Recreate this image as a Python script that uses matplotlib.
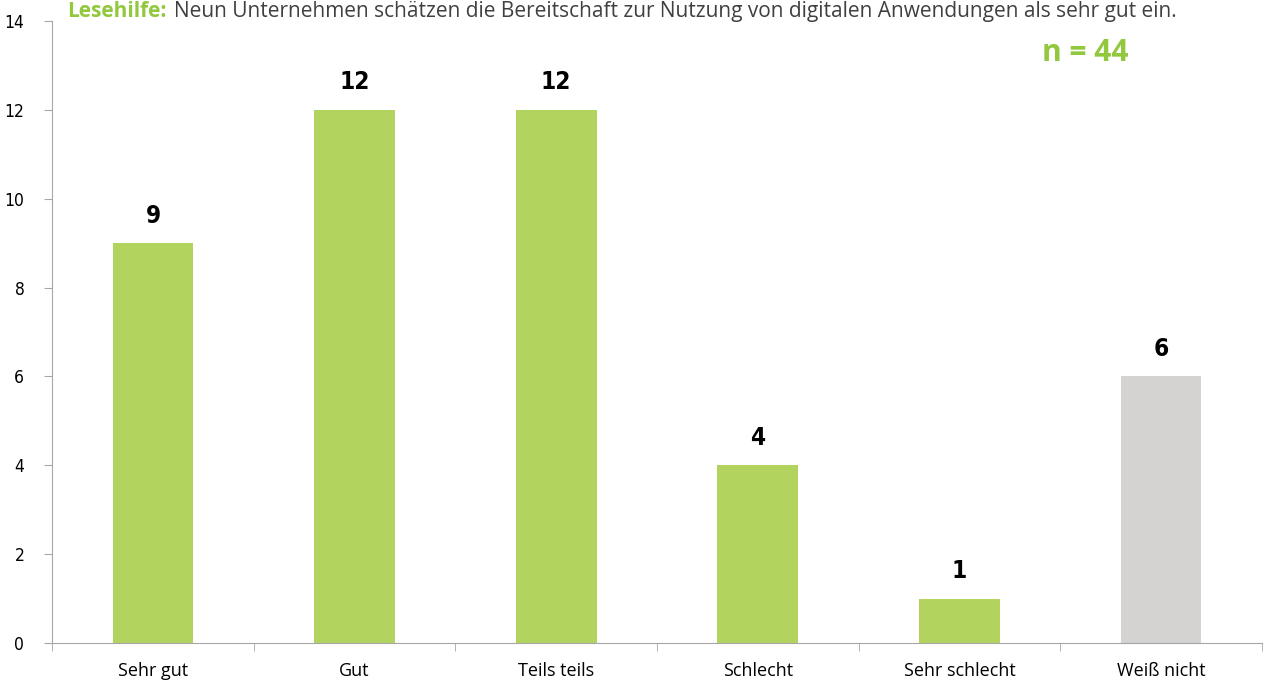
import matplotlib
matplotlib.use('Agg')
import matplotlib.pyplot as plt
import numpy as np

categories = ['Sehr gut', 'Gut', 'Teils teils', 'Schlecht', 'Sehr schlecht', 'Weiß nicht']
values = [9, 12, 12, 4, 1, 6]
colors = ['#B2D35E'] * 5 + ['#D4D3D2']
yticks = [0, 2, 4, 6, 8, 10, 12, 14]

plt.rcParams['font.family'] = ['Open Sans', 'DejaVu Sans']

fig = plt.figure(figsize=(12.72, 6.84), dpi=100)
ax = fig.add_axes([0.041, 0.060, 0.951, 0.909])

x = np.arange(len(categories))
ax.bar(x, values, width=0.40, color=colors, zorder=2)

# value labels above bars
for xi, v in zip(x, values):
    ax.text(xi, v + 0.35, str(v), ha='center', va='bottom', fontsize=17.5,
            fontweight='bold', family='DejaVu Sans', fontstretch='condensed')

ax.set_xlim(-0.5, len(categories) - 0.5)
ax.set_ylim(0, 14)
ax.set_yticks(yticks)
ax.set_yticklabels([str(t) for t in yticks], fontsize=12.5, family='DejaVu Sans',
                   fontstretch='condensed')
ax.set_xticks(x)
ax.set_xticklabels(categories, fontsize=13)
ax.set_xticks(np.arange(-0.5, len(categories)), minor=True)

for s in ['top', 'right']:
    ax.spines[s].set_visible(False)
for s in ['left', 'bottom']:
    ax.spines[s].set_color('#A6A6A6')
ax.tick_params(axis='x', which='major', length=0, pad=14)
ax.tick_params(axis='x', which='minor', length=6, color='#A6A6A6', direction='out')
ax.tick_params(axis='y', length=6, color='#A6A6A6', direction='out', pad=14)

fig.text(0.819, 0.922, 'n = 44', ha='left', va='center', fontsize=21.5,
         fontweight='bold', color='#92C83E')

# reading aid at the top
t1 = fig.text(0.053, 0.999, 'Lesehilfe:', ha='left', va='top', fontsize=15,
              fontweight='bold', color='#92C83E')
ax.annotate('Neun Unternehmen schätzen die Bereitschaft zur Nutzung von digitalen '
            'Anwendungen als sehr gut ein.', xy=(1, 0), xycoords=t1,
            xytext=(5, 0), textcoords='offset points', ha='left', va='bottom',
            fontsize=15, color='#404040', annotation_clip=False)

fig.savefig('out.png', dpi=100)
